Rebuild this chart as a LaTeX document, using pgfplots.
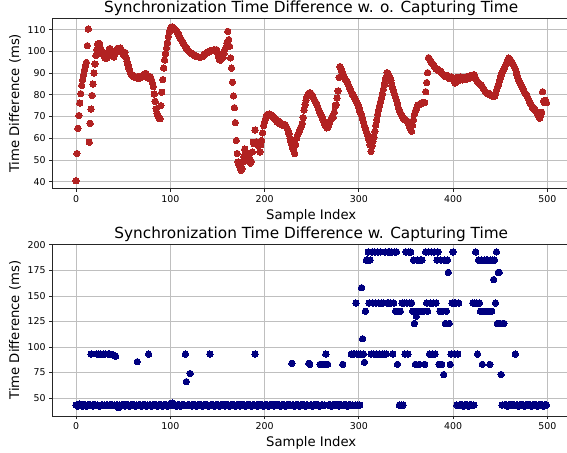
\documentclass[border=0pt]{standalone}
\usepackage{fontspec}
\setmainfont{DejaVu Sans}
\setsansfont{DejaVu Sans}
\usepackage{pgfplots}
\usepackage{pgfplotstable}
\pgfplotsset{compat=1.18}

\definecolor{firebrick}{HTML}{B22222}
\definecolor{navyblue}{HTML}{000080}

% time difference without capturing time (one value per sample)
\pgfplotstableread[row sep=\\, header=false]{
40.5\\53.0\\64.6\\70.5\\76.2\\80.5\\84.3\\86.9\\89.2\\91.5\\
93.5\\94.9\\102.6\\110.3\\58.2\\66.9\\73.4\\79.7\\84.9\\90.0\\
94.2\\98.1\\100.8\\103.4\\102.8\\103.6\\101.5\\99.8\\98.6\\99.5\\
97.6\\96.8\\98.2\\97.0\\99.4\\100.6\\101.3\\100.2\\98.9\\97.8\\
97.4\\98.5\\99.6\\100.8\\101.4\\101.2\\100.5\\101.6\\100.9\\99.7\\
98.8\\98.1\\99.5\\97.2\\95.5\\93.9\\92.3\\91.0\\89.8\\89.2\\
88.6\\88.9\\88.1\\88.4\\87.8\\88.0\\88.5\\87.6\\88.2\\88.0\\
88.7\\88.3\\89.1\\89.6\\89.9\\88.8\\87.9\\88.6\\87.5\\88.2\\
87.0\\85.5\\83.8\\80.4\\77.0\\73.6\\71.5\\70.2\\69.3\\69.0\\
75.0\\81.2\\87.0\\92.3\\96.0\\99.0\\101.5\\104.0\\106.8\\109.0\\
110.4\\111.0\\111.3\\111.0\\110.6\\110.1\\109.6\\109.0\\108.2\\107.4\\
106.6\\105.8\\105.2\\104.4\\103.6\\102.9\\102.3\\101.6\\101.0\\100.3\\
99.9\\99.5\\99.2\\98.9\\98.6\\98.3\\98.0\\97.8\\97.6\\97.5\\
97.4\\97.3\\97.2\\97.4\\97.6\\97.9\\98.3\\98.7\\99.0\\99.3\\
99.6\\99.9\\100.1\\100.2\\100.3\\100.5\\100.6\\100.7\\100.5\\100.8\\
99.6\\97.5\\96.3\\95.9\\96.5\\97.0\\97.2\\99.0\\100.8\\101.8\\
103.8\\109.2\\105.4\\102.3\\97.0\\92.3\\85.8\\79.5\\74.1\\67.2\\
59.0\\53.0\\49.1\\47.5\\46.8\\45.3\\46.0\\49.0\\51.5\\55.0\\
53.7\\51.0\\52.0\\49.5\\50.8\\48.6\\49.4\\53.7\\58.2\\57.5\\
63.8\\58.4\\57.2\\56.8\\58.0\\53.7\\57.0\\59.0\\62.5\\65.9\\
67.5\\69.0\\70.5\\71.0\\70.8\\71.2\\70.6\\70.9\\70.5\\69.8\\
69.5\\68.9\\68.3\\67.7\\67.9\\67.2\\66.8\\67.3\\66.5\\66.0\\
66.4\\65.9\\66.3\\65.4\\64.6\\63.5\\62.0\\60.0\\58.5\\57.0\\
55.4\\54.2\\53.0\\57.0\\60.0\\61.5\\62.3\\63.5\\64.6\\65.5\\
66.9\\69.5\\73.0\\75.5\\77.5\\79.2\\80.0\\80.7\\81.0\\80.7\\
80.2\\79.5\\78.5\\77.6\\76.8\\76.1\\75.0\\73.8\\72.6\\71.5\\
70.8\\69.9\\68.6\\67.5\\66.3\\65.6\\64.8\\65.2\\66.0\\67.3\\
68.4\\69.2\\70.2\\69.6\\72.0\\74.9\\75.4\\78.5\\81.8\\88.0\\
93.0\\92.0\\90.6\\89.5\\88.8\\87.7\\87.0\\86.5\\85.6\\84.5\\
83.5\\82.6\\81.5\\80.5\\79.8\\79.0\\78.0\\77.2\\76.3\\75.4\\
74.0\\72.5\\71.6\\70.8\\69.0\\67.5\\65.8\\64.6\\63.2\\62.0\\
60.3\\59.0\\57.0\\54.0\\56.5\\58.7\\60.5\\63.2\\66.0\\68.5\\
71.0\\73.0\\75.0\\76.8\\78.6\\80.5\\82.5\\84.5\\86.3\\88.0\\
90.2\\89.8\\88.9\\87.9\\86.5\\84.5\\83.0\\81.7\\80.3\\78.8\\
77.5\\76.0\\74.0\\73.0\\72.0\\71.0\\70.2\\69.4\\69.0\\68.5\\
68.2\\67.8\\67.8\\66.5\\65.0\\64.0\\63.2\\66.0\\68.5\\71.0\\
72.5\\73.5\\74.5\\75.2\\75.6\\75.6\\76.0\\76.4\\76.2\\76.4\\
76.4\\81.4\\85.6\\90.2\\97.1\\96.5\\95.7\\95.0\\94.5\\94.0\\
93.2\\92.6\\92.0\\91.8\\91.4\\91.0\\91.0\\90.4\\89.8\\89.5\\
89.2\\88.6\\88.5\\88.6\\88.9\\88.0\\87.5\\87.9\\88.3\\87.4\\
87.9\\86.8\\85.4\\86.4\\88.0\\86.3\\87.8\\87.0\\88.3\\87.5\\
86.9\\87.4\\87.7\\88.1\\87.2\\88.5\\87.9\\88.6\\87.8\\88.0\\
88.5\\89.0\\89.3\\88.4\\87.5\\86.8\\86.0\\85.5\\85.0\\84.6\\
84.6\\83.8\\83.0\\82.4\\81.6\\81.0\\80.7\\80.8\\80.4\\80.0\\
79.8\\79.5\\79.3\\79.6\\79.3\\80.5\\82.0\\83.5\\84.6\\86.0\\
87.5\\89.0\\90.0\\90.8\\92.0\\93.0\\94.0\\95.0\\96.0\\96.9\\
96.5\\96.0\\95.3\\94.5\\93.8\\93.0\\92.0\\90.5\\89.0\\87.5\\
86.5\\85.5\\84.5\\83.5\\83.0\\82.0\\81.0\\80.5\\80.0\\79.0\\
78.0\\77.0\\76.2\\75.4\\74.5\\74.0\\73.5\\73.0\\72.3\\72.0\\
71.0\\70.0\\69.2\\70.5\\72.0\\81.4\\77.1\\76.5\\77.5\\76.4\\
}\withoutcap

% time difference with capturing time
\pgfplotstableread[row sep=\\, header=false]{
43\\43\\42\\43\\44\\43\\43\\42\\43\\43\\
43\\42\\43\\43\\43\\43\\93\\43\\42\\43\\
43\\43\\93\\43\\93\\42\\93\\43\\43\\93\\
43\\93\\43\\43\\93\\43\\93\\43\\43\\43\\
92\\43\\91\\43\\43\\40.5\\43\\42\\43\\43\\
43\\43\\42\\43\\43\\43\\43\\42\\43\\43\\
43\\43\\43\\42\\43\\85.5\\43\\43\\43\\42\\
43\\43\\43\\43\\43\\42\\43\\93\\43\\43\\
42\\43\\43\\43\\43\\43\\42\\43\\43\\43\\
43\\43\\42\\43\\43\\43\\43\\42\\43\\43\\
43\\43\\45\\44\\43\\43\\43\\42\\43\\43\\
43\\42\\43\\43\\43\\43\\93\\66\\43\\43\\
43\\74\\43\\42\\43\\43\\43\\43\\42\\43\\
43\\43\\43\\43\\42\\43\\43\\43\\43\\43\\
43\\42\\93\\43\\43\\43\\43\\42\\43\\43\\
43\\43\\42\\43\\43\\43\\43\\43\\42\\43\\
43\\43\\43\\42\\43\\43\\43\\43\\43\\42\\
43\\43\\43\\43\\42\\43\\43\\43\\43\\43\\
42\\43\\43\\43\\43\\43\\42\\43\\43\\43\\
93\\43\\43\\42\\43\\43\\43\\43\\43\\42\\
43\\43\\43\\43\\42\\43\\43\\43\\43\\43\\
42\\43\\43\\43\\43\\43\\43\\42\\43\\43\\
43\\43\\42\\43\\43\\43\\43\\43\\43\\84\\
43\\43\\42\\43\\43\\43\\43\\42\\43\\43\\
43\\43\\43\\42\\43\\43\\43\\84\\83\\43\\
43\\42\\43\\43\\43\\43\\43\\43\\42\\83\\
43\\43\\83\\83\\43\\93\\83\\83\\43\\43\\
43\\42\\43\\43\\43\\43\\43\\43\\43\\42\\
43\\43\\43\\83\\43\\43\\43\\43\\42\\43\\
43\\43\\93\\43\\93\\93\\43\\143\\93\\43\\
93\\43\\93\\158\\108\\93\\85\\135\\185\\185\\
193\\143\\185\\93\\193\\143\\93\\193\\143\\93\\
193\\143\\93\\193\\143\\93\\143\\93\\193\\93\\
143\\193\\143\\193\\143\\193\\93\\143\\193\\135\\
193\\83\\135\\43\\135\\43\\143\\43\\143\\93\\
193\\143\\93\\193\\143\\193\\143\\135\\185\\123\\
83\\130\\185\\135\\83\\185\\135\\185\\135\\135\\
83\\193\\143\\135\\193\\93\\143\\193\\93\\143\\
193\\93\\143\\185\\193\\83\\135\\185\\83\\135\\
73\\185\\123\\135\\185\\173\\123\\83\\93\\143\\
193\\143\\93\\143\\43\\93\\143\\43\\43\\43\\
43\\42\\43\\43\\43\\43\\42\\43\\43\\43\\
43\\143\\43\\143\\193\\143\\93\\185\\143\\135\\
185\\83\\135\\185\\135\\185\\135\\185\\135\\83\\
185\\135\\185\\166\\185\\143\\193\\123\\173\\173\\
123\\73\\43\\123\\123\\43\\43\\43\\42\\43\\
43\\43\\43\\43\\43\\43\\93\\43\\43\\42\\
43\\43\\43\\43\\43\\43\\42\\43\\43\\43\\
43\\43\\43\\42\\43\\43\\43\\43\\43\\43\\
42\\43\\43\\43\\43\\43\\42\\43\\43\\43\\
}\withcap

\pgfplotsset{
  syncaxis/.style={
    scale only axis,
    width=517.4pt,
    xmin=-24.95, xmax=523.95,
    xtick={0,100,...,500},
    grid=major,
    grid style={line width=0.75pt, color=gray!50},
    axis line style={line width=0.75pt, black!85},
    tick style={line width=0.75pt, black!85},
    tick align=outside,
    tick pos=left,
    major tick length=3.3pt,
    axis on top,
    tick label style={font=\fontsize{9.4}{11}\selectfont,
      /pgf/number format/assume math mode=true},
    label style={font=\fontsize{13.2}{15}\selectfont},
    every axis title/.style={font=\fontsize{15.3}{18}\selectfont,
      at={(0.5,1)}, anchor=base, yshift=5.8pt, inner sep=0pt},
    xlabel style={at={(axis description cs:0.5,0)}, anchor=north,
      yshift=-20.5pt, inner sep=0pt},
    ylabel style={at={(axis description cs:0,0.5)}, anchor=center,
      yshift=37.5pt, inner sep=0pt},
    xlabel={Sample Index},
    ylabel={Time Difference (ms)},
  },
}

\begin{document}
\begin{tikzpicture}
\path[use as bounding box] (0,0) rectangle (567pt,452pt);

\begin{axis}[syncaxis,
  at={(52.5pt,263.7pt)}, anchor=south west,
  height=170pt,
  ymin=37, ymax=115.2,
  ytick={40,50,...,110},
  title={Synchronization Time Difference w. o. Capturing Time},
]
\addplot[only marks, mark=*, mark size=3.2pt,
  mark options={fill=firebrick, draw=firebrick, line width=0pt}]
  table[x expr=\coordindex, y index=0] {\withoutcap};
\end{axis}

\begin{axis}[syncaxis,
  at={(52.5pt,36pt)}, anchor=south west,
  height=171.7pt,
  ymin=32.4, ymax=200.5,
  ytick={50,75,...,200},
  title={Synchronization Time Difference w. Capturing Time},
]
\addplot[only marks, mark=*, mark size=3.2pt,
  mark options={fill=navyblue, draw=navyblue, line width=0pt}]
  table[x expr=\coordindex, y index=0] {\withcap};
\end{axis}
\end{tikzpicture}
\end{document}
